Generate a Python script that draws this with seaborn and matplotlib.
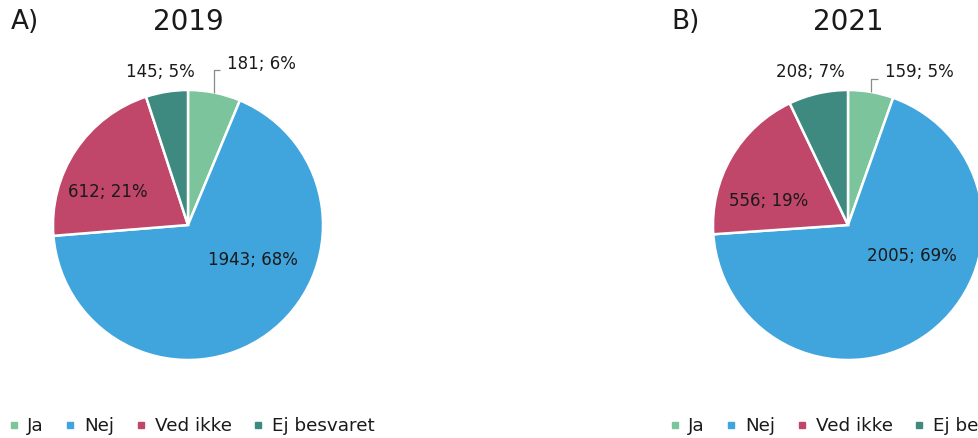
import matplotlib
matplotlib.use("Agg")
import matplotlib.pyplot as plt
from matplotlib.lines import Line2D
import numpy as np
import seaborn as sns

# ---- data ----
categories = ["Ja", "Nej", "Ved ikke", "Ej besvaret"]
years = ["2019", "2021"]
panel_tags = ["A)", "B)"]
counts_2019 = [181, 1943, 612, 145]
counts_2021 = [159, 2005, 556, 208]
pct_2019 = [6, 68, 21, 5]
pct_2021 = [5, 69, 19, 7]

colors = ["#7CC49B", "#40A4DD", "#C0466A", "#3E8A80"]

sns.set_theme(style="white")
plt.rcParams["font.family"] = ["DejaVu Sans"]
palette = sns.color_palette(colors)

W, H = 979, 438
fig = plt.figure(figsize=(W / 100, H / 100), dpi=100)
fig.patch.set_facecolor("white")

TXT = "#1a1a1a"

# layout (pixels): pie centres and radius
centres = [(188, 225), (848, 225)]
R = 135

# label layouts in pie-radius units (text positions only)
label_layouts = [
    {"Ja": (0.289, 1.196, "left"), "Nej": (0.478, -0.259, "center"),
     "Ved ikke": (-0.596, 0.241, "center"), "Ej besvaret": (-0.207, 1.137, "center"),
     "leader": (0.185, 1.148, 0.24)},
    {"Ja": (0.274, 1.13, "left"), "Nej": (0.47, -0.226, "center"),
     "Ved ikke": (-0.585, 0.181, "center"), "Ej besvaret": (-0.278, 1.13, "center"),
     "leader": (0.178, 1.081, 0.225)},
]

all_counts = [counts_2019, counts_2021]
all_pcts = [pct_2019, pct_2021]

for i in range(2):
    cx, cy = centres[i]
    ax = fig.add_axes([(cx - R) / W, (H - cy - R) / H, 2 * R / W, 2 * R / H])
    ax.pie(all_counts[i], colors=palette, startangle=90, counterclock=False,
           radius=1, wedgeprops=dict(edgecolor="white", linewidth=1.8))
    ax.set_xlim(-1, 1)
    ax.set_ylim(-1, 1)
    ax.set_aspect("auto")
    ax.axis("off")
    lay = label_layouts[i]
    for cat, v, p in zip(categories, all_counts[i], all_pcts[i]):
        x, y, ha = lay[cat]
        ax.text(x, y, f"{v}; {p}%", ha=ha, va="center", fontsize=12,
                color=TXT, clip_on=False)
    # leader line for "Ja"
    lx, ly, lx2 = lay["leader"]
    total = sum(all_counts[i])
    ang = np.deg2rad(90 - 360 * all_counts[i][0] / total / 2)
    ex, ey = np.cos(ang), np.sin(ang)
    ax.plot([ex, ex, lx2], [ey, ly, ly], color="#8a8a8a", lw=0.9,
            clip_on=False, solid_capstyle="butt")

    # titles
    fig.text(cx / W, 1 - 22 / H, years[i], ha="center", va="center",
             fontsize=20, color=TXT)
    tag_x = [11, 671][i]
    fig.text(tag_x / W, 1 - 22 / H, panel_tags[i], ha="left", va="center",
             fontsize=19, color=TXT)

    handles = [Line2D([], [], marker="s", linestyle="", markersize=4.5,
                      color=c) for c in palette]
    leg_x = [8, 669][i]
    fig.legend(handles, categories, loc="center left",
               bbox_to_anchor=(leg_x / W, 1 - 426 / H), ncol=4,
               frameon=False, fontsize=13.2, handlelength=0.6,
               handletextpad=0.45, columnspacing=1.15, borderpad=0,
               borderaxespad=0, labelcolor=TXT)

fig.savefig("out.png", dpi=100, facecolor="white")
